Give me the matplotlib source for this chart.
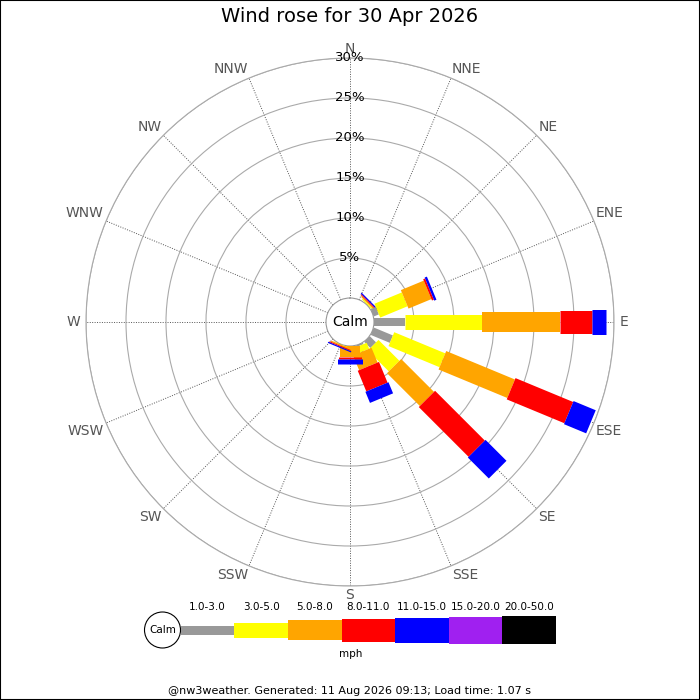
import matplotlib
matplotlib.use('Agg')
import matplotlib.pyplot as plt
import numpy as np

# Wind rose data: % of time per direction and speed band
directions = ['N', 'NNE', 'NE', 'ENE', 'E', 'ESE', 'SE', 'SSE',
              'S', 'SSW', 'SW', 'WSW', 'W', 'WNW', 'NW', 'NNW']
bands = ['1.0-3.0', '3.0-5.0', '5.0-8.0', '8.0-11.0', '11.0-15.0', '15.0-20.0', '20.0-50.0']
band_colors = ['#999999', '#ffff00', '#ffa500', '#ff0000', '#0000ff', '#a020f0', '#000000']
band_width_px = [8, 15, 20, 23, 25, 27, 28]

pct_1_3 = [0, 0, 0.05, 0.7, 3.9, 2.6, 1.1, 0.2, 0, 0, 0, 0, 0, 0, 0, 0]
pct_3_5 = [0, 0, 0.15, 3.7, 9.6, 6.9, 3.7, 0.8, 0.05, 0.05, 0, 0, 0, 0, 0, 0]
pct_5_8 = [0, 0, 0.15, 3.1, 9.7, 9.3, 5.8, 2.0, 1.3, 0.15, 0, 0, 0, 0, 0, 0]
pct_8_11 = [0, 0, 0.12, 0.25, 4.0, 7.8, 8.8, 2.8, 0.3, 0.12, 0, 0, 0, 0, 0, 0]
pct_11_15 = [0, 0, 0.15, 0.3, 1.8, 3.0, 3.7, 1.5, 0.55, 0.15, 0, 0, 0, 0, 0, 0]
pct_15_20 = [0] * 16
pct_20_50 = [0] * 16
band_data = [pct_1_3, pct_3_5, pct_5_8, pct_8_11, pct_11_15, pct_15_20, pct_20_50]

rings = [5, 10, 15, 20, 25, 30]

fig = plt.figure(figsize=(7, 7), dpi=100)
px = 0.72  # points per pixel at 100 dpi

# main rose: centre (350,322), radius 264 px, calm hole = 3 % units
ax = fig.add_axes([86 / 700, 114 / 700, 528 / 700, 528 / 700], projection='polar')
ax.set_theta_zero_location('N')
ax.set_theta_direction(-1)
ax.set_rorigin(-3)
ax.set_rlim(0, 30)
ax.set_rticks(rings)
ax.set_yticklabels([])
thetas = np.deg2rad(np.arange(16) * 22.5)
ax.set_xticks(thetas)
ax.set_xticklabels([])
ax.tick_params(length=0)
ax.yaxis.grid(True, color='#aaaaaa', lw=0.8, ls='-')
ax.xaxis.grid(True, color='#555555', lw=0.7, ls=(0, (1, 1.5)))
ax.spines['polar'].set_color('#aaaaaa')
ax.spines['polar'].set_linewidth(0.8)
if 'inner' in ax.spines:
    ax.spines['inner'].set_color('#999999')
    ax.spines['inner'].set_linewidth(0.8)

# bars
for i, th in enumerate(thetas):
    r0 = 0
    for b in range(len(bands)):
        v = band_data[b][i]
        if v > 0:
            ax.plot([th, th], [r0, r0 + v], color=band_colors[b],
                    lw=band_width_px[b] * px, solid_capstyle='butt', zorder=3)
        r0 += v

# percentage labels
for r in rings:
    ax.text(0, r, f'{r}%', ha='center', va='center', fontsize=9.5, color='black', zorder=4)

# compass labels
for name, th in zip(directions, thetas):
    s, c = np.sin(th), np.cos(th)
    ha = 'left' if s > 0.3 else ('right' if s < -0.3 else 'center')
    va = 'bottom' if c > 0.3 else ('top' if c < -0.3 else 'center')
    r_lab = 30.75 if va == 'center' else 30.3
    ax.text(th, r_lab, name, ha=ha, va=va, fontsize=10, color='#555555')

ax.text(0.5, 0.5, 'Calm', transform=ax.transAxes, ha='center', va='center', fontsize=10)

fig.text(0.5, 1 - 17 / 700, 'Wind rose for 30 Apr 2026', ha='center', va='center', fontsize=14)

# legend strip (pixel coordinates)
lax = fig.add_axes([140 / 700, 35 / 700, 430 / 700, 70 / 700])
lax.set_xlim(140, 570)
lax.set_ylim(665, 595)
lax.axis('off')
lax.add_patch(plt.Circle((162.5, 630), 18, fc='white', ec='black', lw=0.8))
lax.text(162.5, 630, 'Calm', ha='center', va='center', fontsize=7.5)
seg = 53.6
for b, (lab, col) in enumerate(zip(bands, band_colors)):
    x0 = 180.7 + b * seg
    h = band_width_px[b] + (1 if b == 0 else 0)
    lax.add_patch(plt.Rectangle((x0, 630 - h / 2), seg, h, fc=col, ec='none'))
    lax.text(x0 + seg / 2, 607, lab, ha='center', va='center', fontsize=7.5)
lax.text(350.5, 654, 'mph', ha='center', va='center', fontsize=7.5)

fig.text(0.5, 1 - 691 / 700, '@nw3weather. Generated: 11 Aug 2026 09:13; Load time: 1.07 s',
         ha='center', va='center', fontsize=8)

fig.add_artist(plt.Rectangle((0, 0), 1, 1, transform=fig.transFigure, fill=False,
                             ec='black', lw=1.5))

fig.savefig('out.png', dpi=100)
